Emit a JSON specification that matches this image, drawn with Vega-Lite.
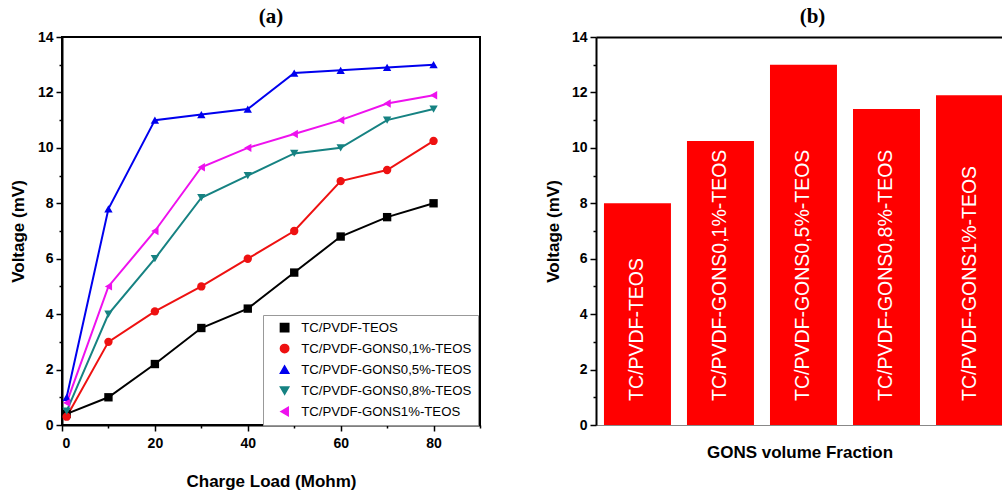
{
  "$schema": "https://vega.github.io/schema/vega-lite/v6.json",
  "padding": {"left": 8, "top": 5, "right": 0, "bottom": 0},
  "spacing": 62,
  "config": {
    "font": "Liberation Sans",
    "view": {"stroke": "black", "strokeWidth": 2},
    "axis": {
      "labelFont": "Liberation Sans", "labelFontSize": 14, "labelFontWeight": "bold", "labelColor": "black",
      "titleFont": "Liberation Sans", "titleFontSize": 17, "titleFontWeight": "bold", "titleColor": "black",
      "tickColor": "black", "tickWidth": 1.5, "domainColor": "black", "domainWidth": 2, "grid": false
    },
    "title": {"font": "Liberation Serif", "fontSize": 21, "fontWeight": "bold", "color": "black", "offset": 3}
  },
  "hconcat": [
    {
      "width": 418, "height": 388,
      "title": {"text": "(a)"},
      "data": {"values": [
        {"load": 1, "v": 0.4, "series": "TC/PVDF-TEOS"},
        {"load": 10, "v": 1.0, "series": "TC/PVDF-TEOS"},
        {"load": 20, "v": 2.2, "series": "TC/PVDF-TEOS"},
        {"load": 30, "v": 3.5, "series": "TC/PVDF-TEOS"},
        {"load": 40, "v": 4.2, "series": "TC/PVDF-TEOS"},
        {"load": 50, "v": 5.5, "series": "TC/PVDF-TEOS"},
        {"load": 60, "v": 6.8, "series": "TC/PVDF-TEOS"},
        {"load": 70, "v": 7.5, "series": "TC/PVDF-TEOS"},
        {"load": 80, "v": 8.0, "series": "TC/PVDF-TEOS"},
        {"load": 1, "v": 0.3, "series": "TC/PVDF-GONS0,1%-TEOS"},
        {"load": 10, "v": 3.0, "series": "TC/PVDF-GONS0,1%-TEOS"},
        {"load": 20, "v": 4.1, "series": "TC/PVDF-GONS0,1%-TEOS"},
        {"load": 30, "v": 5.0, "series": "TC/PVDF-GONS0,1%-TEOS"},
        {"load": 40, "v": 6.0, "series": "TC/PVDF-GONS0,1%-TEOS"},
        {"load": 50, "v": 7.0, "series": "TC/PVDF-GONS0,1%-TEOS"},
        {"load": 60, "v": 8.8, "series": "TC/PVDF-GONS0,1%-TEOS"},
        {"load": 70, "v": 9.2, "series": "TC/PVDF-GONS0,1%-TEOS"},
        {"load": 80, "v": 10.25, "series": "TC/PVDF-GONS0,1%-TEOS"},
        {"load": 1, "v": 1.0, "series": "TC/PVDF-GONS0,5%-TEOS"},
        {"load": 10, "v": 7.8, "series": "TC/PVDF-GONS0,5%-TEOS"},
        {"load": 20, "v": 11.0, "series": "TC/PVDF-GONS0,5%-TEOS"},
        {"load": 30, "v": 11.2, "series": "TC/PVDF-GONS0,5%-TEOS"},
        {"load": 40, "v": 11.4, "series": "TC/PVDF-GONS0,5%-TEOS"},
        {"load": 50, "v": 12.7, "series": "TC/PVDF-GONS0,5%-TEOS"},
        {"load": 60, "v": 12.8, "series": "TC/PVDF-GONS0,5%-TEOS"},
        {"load": 70, "v": 12.9, "series": "TC/PVDF-GONS0,5%-TEOS"},
        {"load": 80, "v": 13.0, "series": "TC/PVDF-GONS0,5%-TEOS"},
        {"load": 1, "v": 0.5, "series": "TC/PVDF-GONS0,8%-TEOS"},
        {"load": 10, "v": 4.0, "series": "TC/PVDF-GONS0,8%-TEOS"},
        {"load": 20, "v": 6.0, "series": "TC/PVDF-GONS0,8%-TEOS"},
        {"load": 30, "v": 8.2, "series": "TC/PVDF-GONS0,8%-TEOS"},
        {"load": 40, "v": 9.0, "series": "TC/PVDF-GONS0,8%-TEOS"},
        {"load": 50, "v": 9.8, "series": "TC/PVDF-GONS0,8%-TEOS"},
        {"load": 60, "v": 10.0, "series": "TC/PVDF-GONS0,8%-TEOS"},
        {"load": 70, "v": 11.0, "series": "TC/PVDF-GONS0,8%-TEOS"},
        {"load": 80, "v": 11.4, "series": "TC/PVDF-GONS0,8%-TEOS"},
        {"load": 1, "v": 0.8, "series": "TC/PVDF-GONS1%-TEOS"},
        {"load": 10, "v": 5.0, "series": "TC/PVDF-GONS1%-TEOS"},
        {"load": 20, "v": 7.0, "series": "TC/PVDF-GONS1%-TEOS"},
        {"load": 30, "v": 9.3, "series": "TC/PVDF-GONS1%-TEOS"},
        {"load": 40, "v": 10.0, "series": "TC/PVDF-GONS1%-TEOS"},
        {"load": 50, "v": 10.5, "series": "TC/PVDF-GONS1%-TEOS"},
        {"load": 60, "v": 11.0, "series": "TC/PVDF-GONS1%-TEOS"},
        {"load": 70, "v": 11.6, "series": "TC/PVDF-GONS1%-TEOS"},
        {"load": 80, "v": 11.9, "series": "TC/PVDF-GONS1%-TEOS"}
      ]},
      "encoding": {
        "x": {"field": "load", "type": "quantitative",
          "scale": {"domain": [0, 90], "nice": false},
          "axis": {"values": [0, 10, 20, 30, 40, 50, 60, 70, 80, 90],
            "labelExpr": "datum.value % 20 === 0 && datum.value < 90 ? datum.label : ''",
            "tickSize": {"condition": {"test": "datum.value % 20 !== 0", "value": 3}, "value": 6},
            "labelPadding": 5, "titlePadding": 23, "title": "Charge Load (Mohm)"}},
        "y": {"field": "v", "type": "quantitative",
          "scale": {"domain": [0, 14], "nice": false},
          "axis": {"values": [0, 1, 2, 3, 4, 5, 6, 7, 8, 9, 10, 11, 12, 13, 14],
            "labelExpr": "datum.value % 2 === 0 ? datum.label : ''",
            "tickSize": {"condition": {"test": "datum.value % 2 !== 0", "value": 3}, "value": 6},
            "labelPadding": 3, "titlePadding": 10, "title": "Voltage (mV)"}},
        "color": {"field": "series", "type": "nominal",
          "scale": {"domain": ["TC/PVDF-TEOS", "TC/PVDF-GONS0,1%-TEOS", "TC/PVDF-GONS0,5%-TEOS", "TC/PVDF-GONS0,8%-TEOS", "TC/PVDF-GONS1%-TEOS"],
            "range": ["#000000", "#ee1111", "#0000ee", "#168282", "#ee11ee"]},
          "legend": {"orient": "none", "legendX": 201, "legendY": 278, "title": null, "strokeColor": "#999999", "fillColor": "white",
            "padding": 6, "labelFont": "Liberation Sans", "labelFontSize": 13.2, "labelColor": "black", "labelLimit": 400,
            "symbolSize": 70, "symbolOffset": 9, "labelOffset": 10, "rowPadding": 6}}
      },
      "layer": [
        {"mark": {"type": "line", "strokeWidth": 2}},
        {"mark": {"type": "point", "filled": true, "size": 70, "opacity": 1},
          "encoding": {"shape": {"field": "series", "type": "nominal",
            "scale": {"domain": ["TC/PVDF-TEOS", "TC/PVDF-GONS0,1%-TEOS", "TC/PVDF-GONS0,5%-TEOS", "TC/PVDF-GONS0,8%-TEOS", "TC/PVDF-GONS1%-TEOS"],
              "range": ["square", "circle", "triangle-up", "triangle-down", "triangle-left"]}}}}
      ]
    },
    {
      "width": 407, "height": 388,
      "title": {"text": "(b)", "dx": 13},
      "view": {"stroke": null},
      "data": {"values": [
        {"sample": "TC/PVDF-TEOS", "v": 8.0},
        {"sample": "TC/PVDF-GONS0,1%-TEOS", "v": 10.25},
        {"sample": "TC/PVDF-GONS0,5%-TEOS", "v": 13.0},
        {"sample": "TC/PVDF-GONS0,8%-TEOS", "v": 11.4},
        {"sample": "TC/PVDF-GONS1%-TEOS", "v": 11.9}
      ]},
      "encoding": {
        "x": {"field": "sample", "type": "nominal", "sort": null,
          "scale": {"paddingInner": 0.193, "paddingOuter": 0.048, "align": 1},
          "axis": {"labels": false, "ticks": false, "title": "GONS volume Fraction", "domainColor": "#888888", "domainWidth": 1, "titlePadding": 19}},
        "y": {"field": "v", "type": "quantitative",
          "scale": {"domain": [0, 14], "nice": false},
          "axis": {"values": [0, 1, 2, 3, 4, 5, 6, 7, 8, 9, 10, 11, 12, 13, 14],
            "labelExpr": "datum.value % 2 === 0 ? datum.label : ''",
            "tickSize": {"condition": {"test": "datum.value % 2 !== 0", "value": 3}, "value": 6},
            "labelPadding": 3, "titlePadding": 9, "title": "Voltage (mV)"}}
      },
      "layer": [
        {"mark": {"type": "bar", "color": "#ff0000"}},
        {"mark": {"type": "text", "angle": 270, "align": "left", "baseline": "middle", "dx": 24, "color": "white", "fontSize": 19.5, "fontWeight": "normal", "font": "Liberation Sans"},
          "encoding": {
            "text": {"field": "sample"},
            "y": {"datum": 0},
            "x": {"field": "sample", "type": "nominal", "sort": null,
              "axis": {"orient": "top", "labels": false, "ticks": false, "title": null, "domainColor": "black", "domainWidth": 2}}
          }}
      ],
      "resolve": {"axis": {"x": "independent"}}
    }
  ]
}
